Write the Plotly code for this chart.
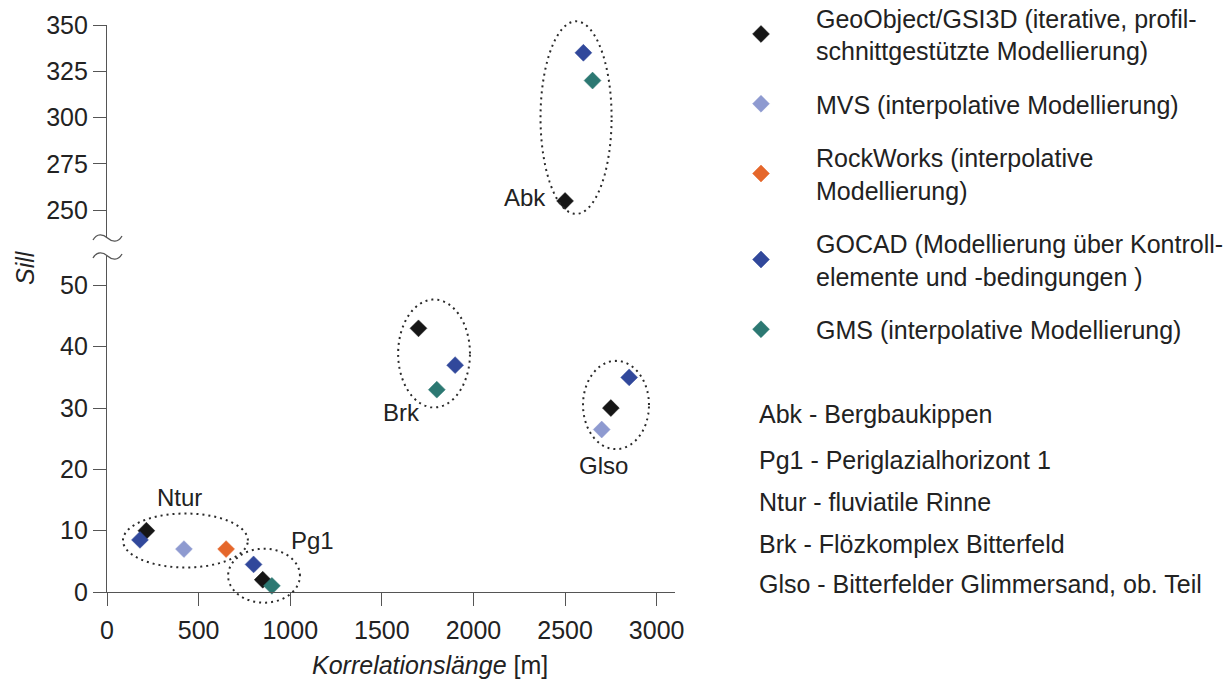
import numpy as np
import plotly.graph_objects as go

# ---- data -------------------------------------------------------------
series_names = [
    "GeoObject/GSI3D (iterative, profil-<br>schnittgestützte Modellierung)",
    "MVS (interpolative Modellierung)",
    "RockWorks (interpolative<br>Modellierung)",
    "GOCAD (Modellierung über Kontroll-<br>elemente und -bedingungen )",
    "GMS (interpolative Modellierung)",
]
series_colors = ["#161616", "#8e9ad0", "#e5672b", "#31489b", "#2c7872"]

# correlation length [m] and sill per software
geoobject_x = [2500, 1700, 2750, 215, 850]
geoobject_y = [255, 43, 30, 10, 2]
mvs_x = [2700, 420]
mvs_y = [26.5, 7]
rockworks_x = [650]
rockworks_y = [7]
gocad_x = [2600, 1900, 2850, 180, 800]
gocad_y = [335, 37, 35, 8.5, 4.5]
gms_x = [2650, 1800, 900]
gms_y = [320, 33, 1]

series_x = [geoobject_x, mvs_x, rockworks_x, gocad_x, gms_x]
series_y = [geoobject_y, mvs_y, rockworks_y, gocad_y, gms_y]

x_ticks = [0, 500, 1000, 1500, 2000, 2500, 3000]
y_ticks_low = [0, 10, 20, 30, 40, 50]
y_ticks_high = [250, 275, 300, 325, 350]

unit_labels = [
    "Abk - Bergbaukippen",
    "Pg1 - Periglazialhorizont 1",
    "Ntur - fluviatile Rinne",
    "Brk - Flözkomplex Bitterfeld",
    "Glso - Bitterfelder Glimmersand, ob. Teil",
]

# ---- layout geometry --------------------------------------------------
FIG_W, FIG_H = 1232, 687
PL, PR, PT, PB = 107, 675, 25, 592          # plot area in px
PW, PH = PR - PL, PB - PT
X_RANGE = [0, 3100]
Y_LOW = [0, 54.8]
Y_HIGH = [235, 350]
D_LOW_TOP = (PB - 256) / PH
D_HIGH_BOT = (PB - 238) / PH

TEXT = "#222222"
AXIS = "#555555"
FONT = "Liberation Sans, Arial, sans-serif"


def px_x(v):
    return (v - X_RANGE[0]) / (X_RANGE[1] - X_RANGE[0])


def px_y(v, upper):
    if upper:
        return D_HIGH_BOT + (1 - D_HIGH_BOT) * (v - Y_HIGH[0]) / (Y_HIGH[1] - Y_HIGH[0])
    return D_LOW_TOP * (v - Y_LOW[0]) / (Y_LOW[1] - Y_LOW[0])


def pix_to_paper(x, y):
    return (x - PL) / PW, (PB - y) / PH


fig = go.Figure()

for name, color, xs, ys in zip(series_names, series_colors, series_x, series_y):
    lo_x = [x for x, y in zip(xs, ys) if y < 100]
    lo_y = [y for y in ys if y < 100]
    hi_x = [x for x, y in zip(xs, ys) if y >= 100]
    hi_y = [y for y in ys if y >= 100]
    marker = dict(symbol="diamond", size=13, color=color,
                  line=dict(color=color, width=0.5))
    fig.add_trace(go.Scatter(x=lo_x, y=lo_y, mode="markers", name=name,
                             marker=marker, legendgroup=name,
                             cliponaxis=False, xaxis="x", yaxis="y"))
    if hi_x:
        fig.add_trace(go.Scatter(x=hi_x, y=hi_y, mode="markers", name=name,
                                 marker=marker, legendgroup=name, showlegend=False,
                                 cliponaxis=False, xaxis="x", yaxis="y2"))

# dotted ellipses around each stratigraphic unit (centre, radii in data units)
ellipses = [
    (2560, 300, 194, 52, True),
    (1785, 38.9, 196, 8.8, False),
    (2778, 30.5, 180, 7.2, False),
    (428, 8.4, 341, 4.4, False),
    (857, 2.66, 196, 4.4, False),
]
t = np.linspace(0, 2 * np.pi, 121)
shapes = []
for cx, cy, rx, ry, upper in ellipses:
    pts = [(px_x(cx + rx * np.cos(a)), px_y(cy + ry * np.sin(a), upper)) for a in t]
    path = "M " + " L ".join(f"{x:.5f},{y:.5f}" for x, y in pts) + " Z"
    shapes.append(dict(type="path", path=path, xref="paper", yref="paper",
                       line=dict(color="#2a2a2a", width=2, dash="2px,4px")))

# axis break marks
for c in (238, 256):
    pts = [(93, c + 2), (97, c - 5), (103, c - 4), (107.5, c),
           (112, c + 4), (118, c + 5), (122, c - 2)]
    p = [pix_to_paper(x, y) for x, y in pts]
    path = (f"M {p[0][0]:.5f},{p[0][1]:.5f} "
            f"C {p[1][0]:.5f},{p[1][1]:.5f} {p[2][0]:.5f},{p[2][1]:.5f} {p[3][0]:.5f},{p[3][1]:.5f} "
            f"C {p[4][0]:.5f},{p[4][1]:.5f} {p[5][0]:.5f},{p[5][1]:.5f} {p[6][0]:.5f},{p[6][1]:.5f}")
    shapes.append(dict(type="path", path=path, xref="paper", yref="paper",
                       line=dict(color=AXIS, width=1.3)))

annotations = []
# unit labels beside the clusters
cluster_labels = [
    ("Abk", 2282, 256.6, "y2"),
    ("Brk", 1605, 29.3, "y"),
    ("Glso", 2708, 20.6, "y"),
    ("Ntur", 398, 15.4, "y"),
    ("Pg1", 1124, 8.4, "y"),
]
for txt, x, y, yref in cluster_labels:
    annotations.append(dict(text=txt, x=x, y=y, xref="x", yref=yref,
                            xanchor="center", yanchor="middle",
                            showarrow=False, font=dict(size=24, color=TEXT)))

# abbreviation key
for txt, py in zip(unit_labels, [414, 460, 502, 544, 584]):
    ax, ay = pix_to_paper(757, py)
    annotations.append(dict(text=txt, x=ax, y=ay, xref="paper", yref="paper",
                            xanchor="left", yanchor="middle", showarrow=False,
                            font=dict(size=25, color=TEXT)))

# axis titles
sx, sy = pix_to_paper(25, 268)
annotations.append(dict(text="<i>Sill</i>", x=sx, y=sy, xref="paper", yref="paper",
                        xanchor="center", yanchor="middle",
                        textangle=-90, showarrow=False, font=dict(size=25, color=TEXT)))
kx, ky = pix_to_paper(430, 665)
annotations.append(dict(text="<i>Korrelationslänge</i> [m]", x=kx, y=ky,
                        xref="paper", yref="paper", xanchor="center", yanchor="middle",
                        showarrow=False, font=dict(size=25, color=TEXT)))

axis_common = dict(showgrid=False, zeroline=False, showline=True, linecolor=AXIS,
                   linewidth=1.3, ticks="outside", ticklen=13, tickcolor=AXIS,
                   tickwidth=1.3, tickfont=dict(size=25, color=TEXT, family=FONT))

lx, ly = pix_to_paper(706, -5)
fig.update_layout(
    width=FIG_W, height=FIG_H,
    margin=dict(l=PL, r=FIG_W - PR, t=PT, b=FIG_H - PB, autoexpand=False),
    paper_bgcolor="white", plot_bgcolor="white",
    font=dict(family=FONT, color=TEXT),
    xaxis=dict(range=X_RANGE, tickvals=x_ticks, ticklabelstandoff=3, **axis_common),
    yaxis=dict(range=Y_LOW, domain=[0, D_LOW_TOP], tickvals=y_ticks_low, **axis_common),
    yaxis2=dict(range=Y_HIGH, domain=[D_HIGH_BOT, 1], tickvals=y_ticks_high,
                anchor="x", **axis_common),
    legend=dict(x=lx, y=ly, xanchor="left", yanchor="top", maxheight=640,
                font=dict(size=25, color=TEXT, family=FONT),
                itemwidth=100, tracegroupgap=18, bgcolor="rgba(0,0,0,0)"),
    shapes=shapes,
    annotations=annotations,
    showlegend=True,
)

fig.write_html("out.html")
